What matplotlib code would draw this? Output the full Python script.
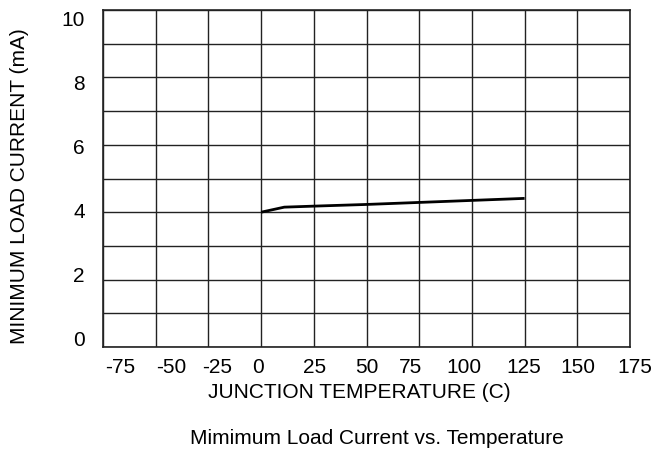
#plot of minimum load current over junction temperature
#grid every 25 C and every 1 mA, like the datasheet figure
import matplotlib
matplotlib.use('Agg')
import matplotlib.pyplot as plt
from matplotlib.transforms import ScaledTranslation

plt.rcParams['font.family'] = ['Liberation Sans', 'DejaVu Sans']
plt.rcParams['axes.unicode_minus'] = False

#values
temp_c = [0, 11, 25, 50, 75, 100, 125]
load_ma = [4.0, 4.15, 4.18, 4.23, 4.29, 4.35, 4.41]

x_ticks = [-75, -50, -25, 0, 25, 50, 75, 100, 125, 150, 175]
y_ticks = [0, 2, 4, 6, 8, 10]
y_grid = [0, 1, 2, 3, 4, 5, 6, 7, 8, 9, 10]

#the tick labels in the original sit a bit off their grid lines (pixels)
x_lab_shift = [17, 16, 9, -3, 1, 0, -9, -8, -1, 1, 5]
y_lab_shift = [8, 4.6, 1.2, -2.2, -5.6, -9]

FS = 15

fig = plt.figure(figsize=(6.54, 4.53), dpi=100)
ax = fig.add_axes([103/654, 1 - 347/453, 527/654, 337/453])

ax.plot(temp_c, load_ma, color='black', lw=2.0, solid_capstyle='butt', zorder=3)

ax.set_xlim(-75, 175)
ax.set_ylim(0, 10)
ax.set_xticks(x_ticks)
ax.set_yticks(y_ticks)
ax.set_yticks(y_grid, minor=True)
ax.grid(True, which='both', color='#222222', lw=1.0)
ax.tick_params(which='both', length=0, labelsize=FS)
ax.tick_params(axis='x', pad=8)
ax.tick_params(axis='y', pad=13)
for s in ax.spines.values():
    s.set_linewidth(1.2)
    s.set_color('#222222')

for lab, dx in zip(ax.get_xticklabels(), x_lab_shift):
    lab.set_transform(lab.get_transform() +
                      ScaledTranslation(dx / 100, 0, fig.dpi_scale_trans))
for lab, dy in zip(ax.get_yticklabels(), y_lab_shift):
    lab.set_transform(lab.get_transform() +
                      ScaledTranslation(0, dy / 100, fig.dpi_scale_trans))

ax.set_xlabel('JUNCTION TEMPERATURE (C)', fontsize=FS)
ax.set_ylabel('MINIMUM LOAD CURRENT (mA)', fontsize=FS)
ax.xaxis.set_label_coords((359 - 103) / 527, -(392 - 347) / 337)
ax.yaxis.set_label_coords(-(103 - 19.5) / 527, (347 - 186.5) / 337)
ax.xaxis.label.set_va('center')
ax.yaxis.label.set_va('center')
fig.text(377 / 654, 1 - 438 / 453, 'Mimimum Load Current vs. Temperature',
         ha='center', va='center', fontsize=FS)

fig.savefig('out.png', dpi=100)
